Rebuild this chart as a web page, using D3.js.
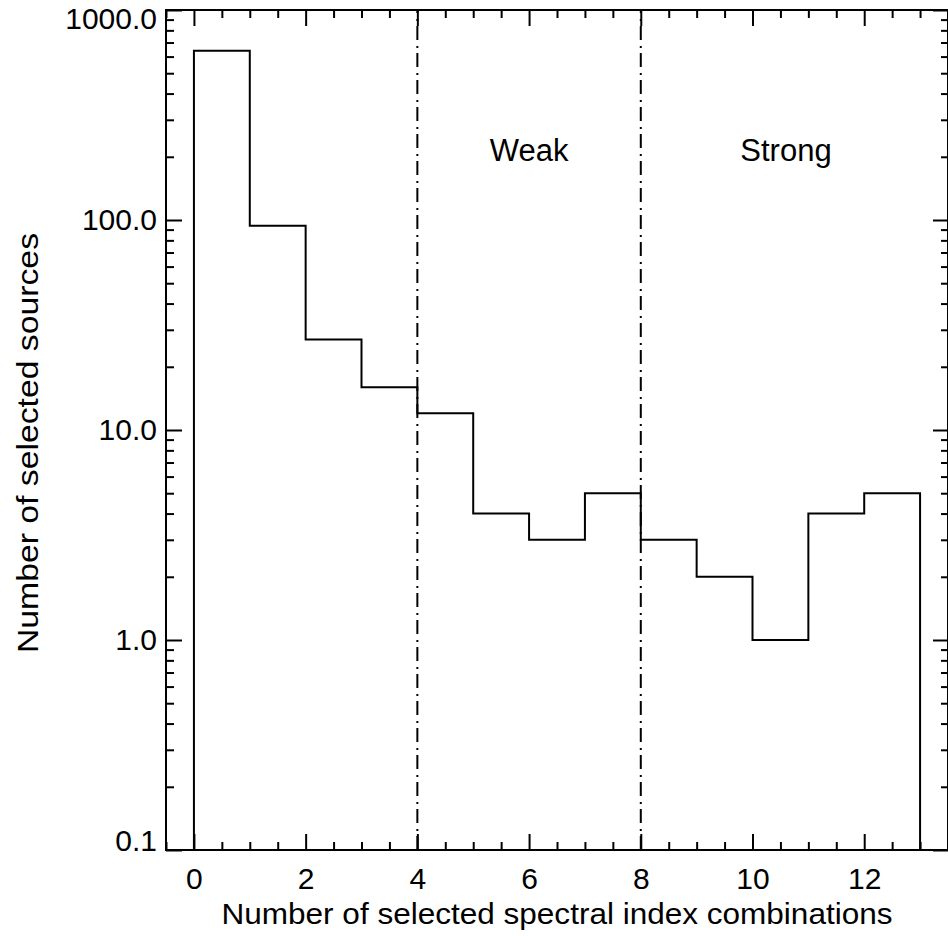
<!DOCTYPE html>
<html>
<head>
<meta charset="utf-8">
<script src="https://cdn.jsdelivr.net/npm/d3@7"></script>
<style>
  body { margin: 0; background: #fff; }
  svg text { font-family: "Liberation Sans", Arial, sans-serif; fill: #000; }
</style>
</head>
<body>
<div id="chart"></div>
<script>
// histogram: counts per bin, bins start at 0 with width 1
const binStarts = [0, 1, 2, 3, 4, 5, 6, 7, 8, 9, 10, 11, 12];
const counts = [640, 94, 27, 16, 12, 4, 3, 5, 3, 2, 1, 4, 5];
const xMajorTicks = [0, 2, 4, 6, 8, 10, 12];
const xMinorTicks = [-0.5, 0.5, 1, 1.5, 2.5, 3, 3.5, 4.5, 5, 5.5, 6.5, 7, 7.5, 8.5, 9, 9.5, 10.5, 11, 11.5, 12.5, 13, 13.5];
const yMajorTicks = [0.1, 1, 10, 100, 1000];
const regionLines = [4, 8];
const regionLabels = [{ text: "Weak", x: 6 }, { text: "Strong", x: 10.6 }];

const W = 948, H = 936;
const margin = { left: 166, right: 948, top: 10, bottom: 850 };

const svg = d3.select("#chart").append("svg")
    .attr("width", W)
    .attr("height", H);

const x = d3.scaleLinear().domain([-0.5, 13.5]).range([margin.left, margin.right]);
const y = d3.scaleLog().domain([0.1, 1000]).range([margin.bottom, margin.top]);

// minor log ticks 2..9 in each decade
const yMinorTicks = [];
[0.1, 1, 10, 100].forEach(d => {
    for (let k = 2; k <= 9; k++) yMinorTicks.push(d * k);
});

const fontSize = 30;

function styleAxis(g) {
    g.select(".domain").remove();
    g.selectAll(".tick line").attr("stroke", "#000").attr("stroke-width", 2);
    g.selectAll(".tick text").style("font-size", fontSize + "px");
}

// bottom axis
svg.append("g")
    .attr("transform", `translate(0,${margin.bottom})`)
    .call(d3.axisBottom(x).tickValues(xMajorTicks).tickSize(-16).tickPadding(18).tickFormat(d3.format("d")))
    .call(styleAxis);
svg.append("g")
    .attr("transform", `translate(0,${margin.bottom})`)
    .call(d3.axisBottom(x).tickValues(xMinorTicks).tickSize(-8).tickFormat(""))
    .call(styleAxis);

// top axis
svg.append("g")
    .attr("transform", `translate(0,${margin.top})`)
    .call(d3.axisTop(x).tickValues(xMajorTicks).tickSize(-16).tickFormat(""))
    .call(styleAxis);
svg.append("g")
    .attr("transform", `translate(0,${margin.top})`)
    .call(d3.axisTop(x).tickValues(xMinorTicks).tickSize(-8).tickFormat(""))
    .call(styleAxis);

// left axis
const yAxisG = svg.append("g")
    .attr("transform", `translate(${margin.left},0)`)
    .call(d3.axisLeft(y).tickValues(yMajorTicks).tickSize(-16).tickPadding(9).tickFormat(d3.format(".1f")))
    .call(styleAxis);
// end labels nudged inside the frame, like the original
yAxisG.selectAll(".tick text")
    .attr("dy", d => d === 1000 ? "0.6em" : d === 0.1 ? "0.02em" : "0.32em");
svg.append("g")
    .attr("transform", `translate(${margin.left},0)`)
    .call(d3.axisLeft(y).tickValues(yMinorTicks).tickSize(-8).tickFormat(""))
    .call(styleAxis);

// right axis
svg.append("g")
    .attr("transform", `translate(${margin.right},0)`)
    .call(d3.axisRight(y).tickValues(yMajorTicks).tickSize(-15).tickFormat(""))
    .call(styleAxis);
svg.append("g")
    .attr("transform", `translate(${margin.right},0)`)
    .call(d3.axisRight(y).tickValues(yMinorTicks).tickSize(-7).tickFormat(""))
    .call(styleAxis);

// frame
svg.append("rect")
    .attr("x", margin.left)
    .attr("y", margin.top)
    .attr("width", margin.right - margin.left)
    .attr("height", margin.bottom - margin.top)
    .attr("fill", "none")
    .attr("stroke", "#000")
    .attr("stroke-width", 2);

// step histogram outline
const pts = [[binStarts[0], 0.1]];
binStarts.forEach((b, i) => {
    pts.push([b, counts[i]]);
    pts.push([b + 1, counts[i]]);
});
pts.push([binStarts[binStarts.length - 1] + 1, 0.1]);

svg.append("path")
    .attr("d", d3.line().x(d => x(d[0])).y(d => y(d[1]))(pts))
    .attr("fill", "none")
    .attr("stroke", "#000")
    .attr("stroke-width", 2)
    .attr("stroke-linejoin", "miter");

// dash-dot separators
svg.selectAll(".region-line")
    .data(regionLines)
    .enter()
    .append("line")
    .attr("class", "region-line")
    .attr("x1", d => x(d))
    .attr("x2", d => x(d))
    .attr("y1", y(0.1))
    .attr("y2", y(1000))
    .attr("stroke", "#000")
    .attr("stroke-width", 2)
    .attr("stroke-dasharray", "14,5,2,6");

svg.selectAll(".region-label")
    .data(regionLabels)
    .enter()
    .append("text")
    .attr("class", "region-label")
    .attr("x", d => x(d.x))
    .attr("y", 161)
    .attr("text-anchor", "middle")
    .style("font-size", "31px")
    .text(d => d.text);

// axis titles
svg.append("text")
    .attr("x", (margin.left + margin.right) / 2)
    .attr("y", 924)
    .attr("text-anchor", "middle")
    .attr("textLength", 671)
    .attr("lengthAdjust", "spacingAndGlyphs")
    .style("font-size", "29px")
    .text("Number of selected spectral index combinations");

svg.append("text")
    .attr("transform", `translate(38,443) rotate(-90)`)
    .attr("text-anchor", "middle")
    .attr("textLength", 420)
    .attr("lengthAdjust", "spacingAndGlyphs")
    .style("font-size", "29px")
    .text("Number of selected sources");
</script>
</body>
</html>
